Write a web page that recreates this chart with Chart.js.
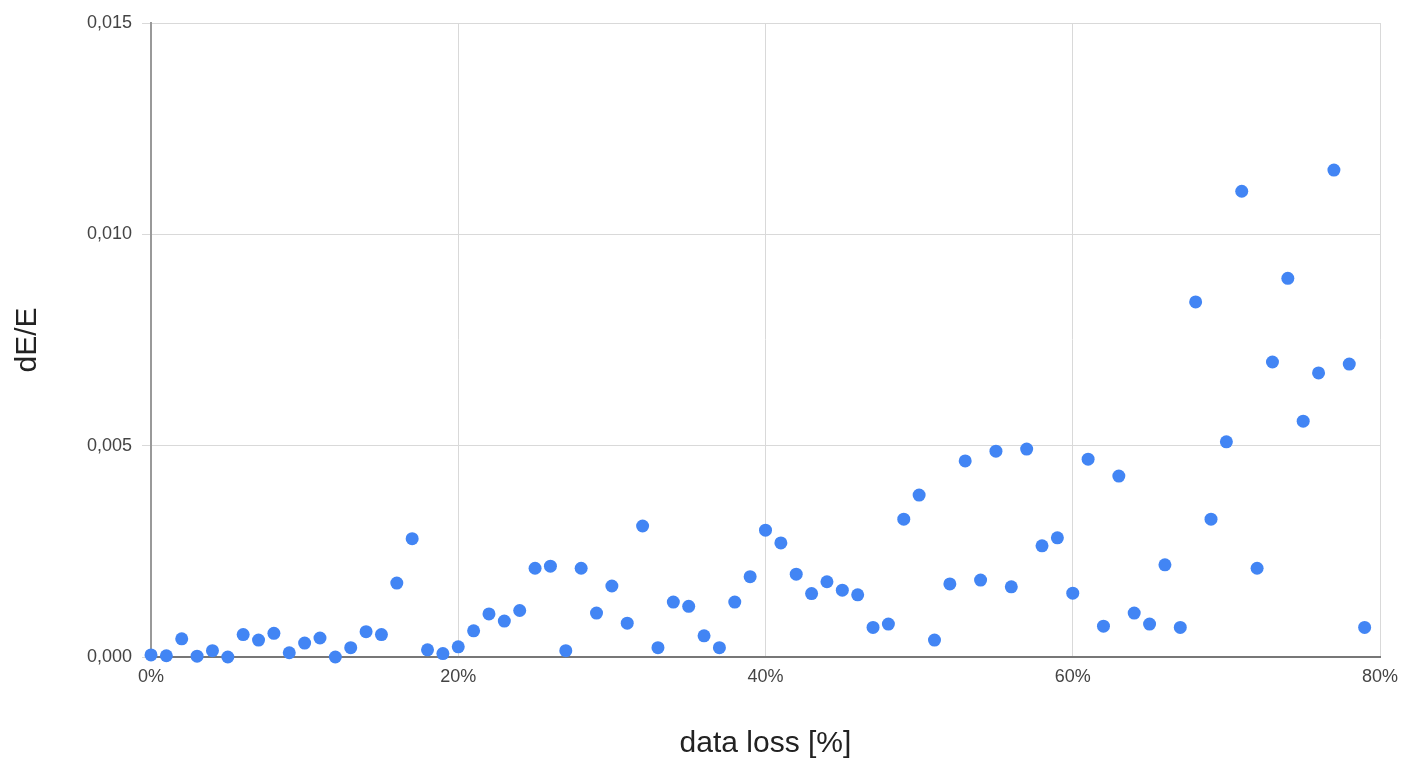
<!DOCTYPE html>
<html>
<head>
<meta charset="utf-8">
<script src="https://cdn.jsdelivr.net/npm/chart.js@4.4.1/dist/chart.umd.min.js"></script>
<style>
    html, body { margin: 0; padding: 0; background: #fff; }
    #wrap { width: 1401px; height: 758px; position: relative; }
</style>
</head>
<body>
<div id="wrap"><canvas id="scatter"></canvas></div>
<script>
// data loss in percent
var dataLoss = [
    0, 1, 2, 3, 4, 5, 6, 7, 8, 9,
    10, 11, 12, 13, 14, 15, 16, 17, 18, 19,
    20, 21, 22, 23, 24, 25, 26, 27, 28, 29,
    30, 31, 32, 33, 34, 35, 36, 37, 38, 39,
    40, 41, 42, 43, 44, 45, 46, 47, 48, 49,
    50, 51, 52, 53, 54, 55, 56, 57, 58, 59,
    60, 61, 62, 63, 64, 65, 66, 67, 68, 69,
    70, 71, 72, 73, 74, 75, 76, 77, 78, 79
];

// relative energy error dE/E
var relError = [
    0.00005, 0.00003, 0.00043, 0.00002, 0.00015, 0.00000, 0.00053, 0.00040, 0.00056, 0.00010,
    0.00033, 0.00045, 0.00000, 0.00022, 0.00060, 0.00053, 0.00175, 0.00280, 0.00017, 0.00008,
    0.00024, 0.00062, 0.00102, 0.00085, 0.00110, 0.00210, 0.00215, 0.00015, 0.00210, 0.00104,
    0.00168, 0.00080, 0.00310, 0.00022, 0.00130, 0.00120, 0.00050, 0.00022, 0.00130, 0.00190,
    0.00300, 0.00270, 0.00196, 0.00150, 0.00178, 0.00158, 0.00147, 0.00070, 0.00078, 0.00326,
    0.00383, 0.00040, 0.00173, 0.00464, 0.00182, 0.00487, 0.00166, 0.00492, 0.00263, 0.00282,
    0.00151, 0.00468, 0.00073, 0.00428, 0.00104, 0.00078, 0.00218, 0.00070, 0.00840, 0.00326,
    0.00509, 0.01102, 0.00210, 0.00698, 0.00896, 0.00558, 0.00672, 0.01152, 0.00693, 0.00070
];

var xTicks = [0, 20, 40, 60, 80];
var yTicks = [0, 0.005, 0.010, 0.015];

var xTitle = 'data loss [%]';
var yTitle = 'dE/E';

(function(){

    var points = [];
    for (var i = 0; i < dataLoss.length; i++) {
        points.push({x: dataLoss[i], y: relError[i]});
    }

    Chart.defaults.font.family = 'Arial, "Liberation Sans", sans-serif';

    new Chart(document.getElementById('scatter'), {
        type: 'scatter',
        data: {
            datasets: [{
                label: yTitle,
                data: points,
                pointRadius: 6.5,
                pointHoverRadius: 6.5,
                backgroundColor: '#4285F4',
                borderColor: '#4285F4',
                borderWidth: 0,
                clip: false
            }]
        },
        options: {
            responsive: true,
            maintainAspectRatio: false,
            animation: false,
            layout: { padding: { top: 23, right: 21, left: 0, bottom: 0 } },
            plugins: {
                legend: { display: false },
                tooltip: { enabled: false }
            },
            scales: {
                x: {
                    type: 'linear',
                    min: xTicks[0],
                    max: xTicks[xTicks.length - 1],
                    afterBuildTicks: function(scale){
                        scale.ticks = xTicks.map(function(v){ return {value: v}; });
                    },
                    afterFit: function(scale){
                        scale.height = 101;
                        // labels at the ends may hang over, like the original
                        scale.paddingLeft = 0;
                        scale.paddingRight = 0;
                    },
                    ticks: {
                        color: '#444',
                        font: { size: 18 },
                        padding: 9,
                        maxRotation: 0,
                        callback: function(v){ return v + '%'; }
                    },
                    grid: { color: '#d9d9d9', drawTicks: false },
                    border: { color: '#777', width: 2 },
                    title: {
                        display: true,
                        text: xTitle,
                        color: '#222',
                        font: { size: 30 },
                        padding: { top: 0, bottom: -4 }
                    }
                },
                y: {
                    type: 'linear',
                    min: yTicks[0],
                    max: yTicks[yTicks.length - 1],
                    afterBuildTicks: function(scale){
                        scale.ticks = yTicks.map(function(v){ return {value: v}; });
                    },
                    afterFit: function(scale){ scale.width = 151; },
                    ticks: {
                        color: '#444',
                        font: { size: 18 },
                        padding: 10,
                        callback: function(v){ return v.toFixed(3).replace('.', ','); }
                    },
                    grid: { color: '#d9d9d9', tickLength: 9 },
                    border: { color: '#999', width: 2 },
                    title: {
                        display: true,
                        text: yTitle,
                        color: '#222',
                        font: { size: 30 },
                        padding: { top: 10, bottom: 0 }
                    }
                }
            }
        }
    });

})();
</script>
</body>
</html>
